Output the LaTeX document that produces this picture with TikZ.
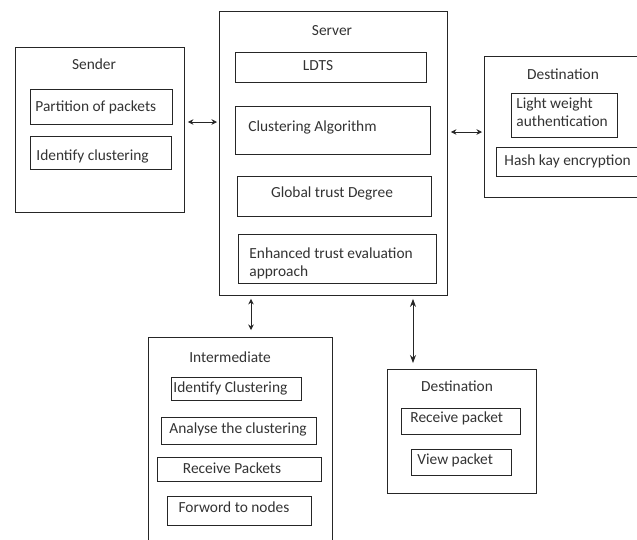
\documentclass[tikz,border=0pt]{standalone}
\usepackage{fontspec}
\setmainfont{Carlito}
\usetikzlibrary{arrows.meta}
\begin{document}
\begin{tikzpicture}[x=1pt,y=-1pt,
  line width=0.8pt,
  every node/.style={text=black!80, font=\fontsize{15.4}{18}\selectfont, inner sep=0pt},
  rbox/.style={draw=black!85, line width=0.9pt, rectangle, inner sep=0pt, anchor=north west},
  arr/.style={draw=black!85, line width=0.8pt, {Stealth[length=5.5pt,width=5.5pt]}-{Stealth[length=5.5pt,width=5.5pt]}},
  bigarr/.style={draw=black!85, line width=0.8pt, {Stealth[length=8pt,width=6pt]}-{Stealth[length=8pt,width=6pt]}}
]
\useasboundingbox (0,0) rectangle (637,539);
\clip (0,0) rectangle (637,539);
\fill[white] (0,0) rectangle (637,539);
% Sender
\node[rbox, minimum width=169pt, minimum height=165pt] (sender) at (15,47) {};
\node (sendert) at (94,64) {Sender};
\node[rbox, minimum width=142pt, minimum height=35pt] (sp1) at (30,89) {};
\node[anchor=west] (sp1t) at (35,107) {Partition of packets};
\node[rbox, minimum width=141pt, minimum height=33pt] (sp2) at (30,136) {};
\node[anchor=west] (sp2t) at (36,156) {Identify clustering};
% Server
\node[rbox, minimum width=228pt, minimum height=284pt] (server) at (219,11) {};
\node (servert) at (332,31) {Server};
\node[rbox, minimum width=191pt, minimum height=30pt] (ldts) at (235,52) {};
\node (ldtst) at (318,66) {LDTS};
\node[rbox, minimum width=195pt, minimum height=48pt] (calg) at (235,106) {};
\node[anchor=west] (calgt) at (248,127) {Clustering Algorithm};
\node[rbox, minimum width=194pt, minimum height=40pt] (gtd) at (237,176) {};
\node (gtdt) at (332,193) {Global trust Degree};
\node[rbox, minimum width=198pt, minimum height=49pt] (ete) at (238,234) {};
\node[anchor=west, align=left] (etet) at (249,263) {Enhanced trust evaluation\\approach};
% Destination (right)
\node[rbox, minimum width=180pt, minimum height=141pt] (desta) at (484,56) {};
\node (destat) at (563,74) {Destination};
\node[rbox, minimum width=106pt, minimum height=44pt] (lw) at (511,93) {};
\node[anchor=west, align=left] (lwt) at (516,112) {Light weight\\authentication};
\node[rbox, minimum width=160pt, minimum height=29pt] (hash) at (496,147) {};
\node[anchor=west] (hasht) at (504,161) {Hash kay encryption};
% Intermediate
\node[rbox, minimum width=184pt, minimum height=215pt] (inter) at (148,337) {};
\node (intert) at (230,357) {Intermediate};
\node[rbox, minimum width=130pt, minimum height=23pt] (ic) at (171,377) {};
\node[anchor=west] (ict) at (173,388) {Identify Clustering};
\node[rbox, minimum width=155pt, minimum height=27pt] (an) at (161,417) {};
\node (ant) at (238,429) {Analyse the clustering};
\node[rbox, minimum width=164pt, minimum height=24pt] (rp) at (157,457) {};
\node (rpt) at (232,468) {Receive Packets};
\node[rbox, minimum width=144pt, minimum height=29pt] (fw) at (167,496) {};
\node (fwt) at (234,507) {Forword to nodes};
% Destination (bottom)
\node[rbox, minimum width=149pt, minimum height=124pt] (destb) at (387,369) {};
\node (destbt) at (457,386) {Destination};
\node[rbox, minimum width=119pt, minimum height=26pt] (rcv) at (401,408) {};
\node[anchor=west] (rcvt) at (410,418) {Receive packet};
\node[rbox, minimum width=100pt, minimum height=26pt] (vp) at (411,449) {};
\node[anchor=west] (vpt) at (417,460) {View packet};
% Connectors
\draw[arr, shorten <=3pt, shorten >=2pt] (sender.east |- 0,122) -- (server.west |- 0,122);
\draw[arr, shorten <=3pt, shorten >=2pt] (server.east |- 0,132) -- (desta.west |- 0,132);
\draw[arr, shorten <=3pt, shorten >=7pt] (server.south -| 251,0) -- (inter.north -| 251,0);
\draw[bigarr, shorten <=3pt, shorten >=6pt] (server.south -| 413,0) -- (destb.north -| 413,0);
\end{tikzpicture}
\end{document}
